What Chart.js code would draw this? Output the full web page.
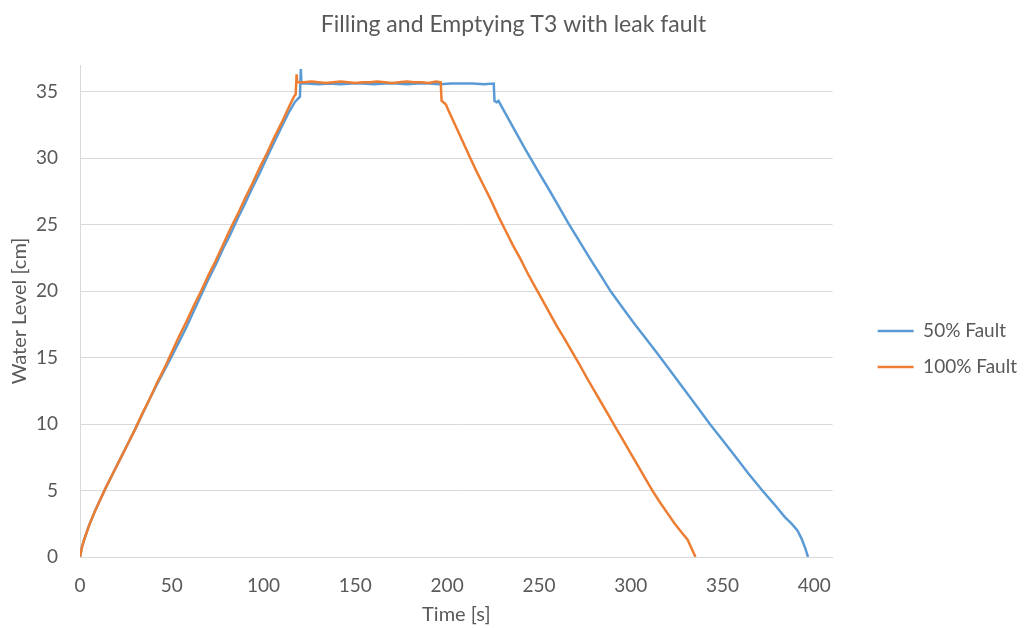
<!DOCTYPE html>
<html>
<head>
<meta charset="utf-8">
<title>Filling and Emptying T3 with leak fault</title>
<script src="https://cdn.jsdelivr.net/npm/chart.js@4.4.0/dist/chart.umd.min.js"></script>
<style>
  html, body { margin: 0; padding: 0; background: #fff; }
</style>
</head>
<body>
<canvas id="tankChart" width="1027" height="628"></canvas>
<script>
// Tank T3 level logs, time in seconds, level in cm
const time50 = [0, 1, 2, 3, 5, 8, 11, 14, 18, 22, 26, 30, 34, 38, 42, 46, 50, 54, 58, 62, 66, 70, 74, 78, 82, 86, 90, 94, 98, 102, 106, 110, 114, 117, 119, 119.8, 120.3, 120.6,
  124, 130, 136, 142, 148, 154, 160, 166, 172, 178, 184, 190, 196, 202, 208, 214, 220, 225.4,
  225.8, 227, 228, 230, 234, 238, 242, 245.4, 250, 255, 260, 266, 272, 278, 284, 289, 295, 302, 309, 316.2, 323, 330, 337, 343.1, 350, 357, 364, 371.7, 378, 384, 388, 390.8, 393, 395, 396.6];
const level50 = [0, 0.7, 1.2, 1.6, 2.4, 3.4, 4.3, 5.2, 6.3, 7.4, 8.5, 9.6, 10.75, 11.9, 13.0, 14.05, 15.1, 16.2, 17.3, 18.5, 19.7, 20.9, 22.0, 23.2, 24.3, 25.5, 26.6, 27.8, 28.9, 30.1, 31.25, 32.4, 33.5, 34.2, 34.5, 34.6, 36.7, 35.6,
  35.6, 35.55, 35.6, 35.55, 35.6, 35.6, 35.55, 35.6, 35.6, 35.55, 35.6, 35.6, 35.55, 35.6, 35.6, 35.6, 35.55, 35.6,
  34.3, 34.2, 34.3, 33.8, 32.8, 31.8, 30.8, 30.0, 28.9, 27.75, 26.55, 25.1, 23.75, 22.4, 21.1, 20.0, 18.85, 17.55, 16.3, 15.0, 13.75, 12.45, 11.15, 10.0, 8.8, 7.55, 6.3, 5.0, 4.0, 3.0, 2.45, 2.0, 1.4, 0.7, 0];

const time100 = [0, 1, 2, 3, 5, 8, 11, 14, 18, 22, 26, 30, 34, 38, 42, 46, 50, 54, 58, 62, 66, 70, 74, 78, 82, 86, 90, 94, 98, 102, 106, 110, 114, 116.5, 117.5, 118, 118.3,
  122, 126, 130, 134, 138, 142, 146, 150, 154, 158, 162, 166, 170, 174, 178, 182, 186, 190, 194, 196.5,
  197, 198, 199.5, 200, 204, 208, 212.6, 216, 220, 224, 228, 232, 236, 240, 244, 248, 252, 256, 260, 264, 268, 272, 276, 280, 284, 288, 292, 296, 300, 304, 308, 312, 316, 320, 324, 328, 331, 333, 335.3];
const level100 = [0, 0.7, 1.2, 1.6, 2.4, 3.4, 4.3, 5.2, 6.3, 7.4, 8.5, 9.6, 10.8, 11.9, 13.1, 14.2, 15.4, 16.6, 17.7, 18.9, 20.0, 21.2, 22.3, 23.5, 24.7, 25.8, 27.0, 28.1, 29.3, 30.4, 31.6, 32.7, 33.9, 34.6, 34.8, 36.3, 35.7,
  35.7, 35.75, 35.7, 35.65, 35.7, 35.75, 35.7, 35.65, 35.7, 35.7, 35.75, 35.7, 35.65, 35.7, 35.75, 35.7, 35.7, 35.65, 35.75, 35.7,
  34.3, 34.2, 34.0, 33.8, 32.6, 31.4, 30.0, 29.0, 27.9, 26.8, 25.6, 24.5, 23.4, 22.4, 21.3, 20.3, 19.3, 18.3, 17.3, 16.4, 15.45, 14.5, 13.5, 12.55, 11.6, 10.65, 9.7, 8.75, 7.8, 6.85, 5.9, 4.95, 4.1, 3.3, 2.5, 1.8, 1.3, 0.7, 0];

const seriesNames = ['50% Fault', '100% Fault'];
const seriesColors = ['#5B9BD5', '#ED7D31'];
const xTickStep = 50;
const yTickStep = 5;

const font = 'Lato, "Open Sans", sans-serif';
const grey = '#595959';
const gridGrey = '#d9d9d9';

function toPoints(xs, ys) {
  return xs.map((x, i) => ({ x: x, y: ys[i] }));
}

const ctx = document.getElementById('tankChart').getContext('2d');
new Chart(ctx, {
  type: 'scatter',
  data: {
    datasets: [{
      label: seriesNames[0],
      data: toPoints(time50, level50),
      borderColor: seriesColors[0],
      backgroundColor: seriesColors[0],
      borderWidth: 2.5,
      showLine: true,
      pointRadius: 0,
      yAxisID: 'y',
      order: 1
    }, {
      label: seriesNames[1],
      data: toPoints(time100, level100),
      borderColor: seriesColors[1],
      backgroundColor: seriesColors[1],
      borderWidth: 2.5,
      showLine: true,
      pointRadius: 0,
      yAxisID: 'y',
      order: 0
    }]
  },
  options: {
    responsive: false,
    animation: false,
    layout: { padding: { left: 0, right: 0, top: 0, bottom: 0 } },
    plugins: {
      title: {
        display: true,
        text: 'Filling and Emptying T3 with leak fault',
        color: grey,
        font: { family: font, size: 23, weight: 'normal' },
        padding: { top: 11, bottom: 26.4 }
      },
      legend: {
        position: 'right',
        // empty title just pushes the two entries down a little
        title: { display: true, text: '', font: { size: 10 }, padding: { top: 0, bottom: 58 } },
        labels: {
          usePointStyle: true,
          pointStyle: 'line',
          pointStyleWidth: 36,
          padding: 17,
          color: grey,
          font: { family: font, size: 19 },
          sort: (a, b) => a.datasetIndex - b.datasetIndex
        }
      },
      tooltip: { enabled: false }
    },
    scales: {
      x: {
        type: 'linear',
        min: 0,
        max: 410,
        ticks: { stepSize: xTickStep, includeBounds: false, padding: 17.5, color: grey, font: { family: font, size: 19 } },
        grid: { display: false, drawTicks: false },
        border: { display: true, color: gridGrey },
        title: { display: true, text: 'Time [s]', color: grey, font: { family: font, size: 20 }, padding: { top: 4, bottom: 1 } },
        afterFit: s => { s.height = 71; }
      },
      y: {
        type: 'linear',
        min: 0,
        max: 37,
        ticks: { stepSize: yTickStep, includeBounds: false, padding: 22, color: grey, font: { family: font, size: 19 } },
        grid: { color: gridGrey, drawTicks: false },
        border: { display: true, color: gridGrey },
        title: { display: true, text: 'Water Level [cm]', color: grey, font: { family: font, size: 20 }, padding: { top: 8, bottom: 4 } },
        afterFit: s => { s.width = 80; }
      },
      // empty strip between the plot and the legend
      gap: {
        type: 'linear',
        position: 'right',
        grid: { display: false, drawTicks: false },
        border: { display: false },
        ticks: { display: false },
        afterFit: s => { s.width = 28; }
      }
    }
  }
});
</script>
</body>
</html>
